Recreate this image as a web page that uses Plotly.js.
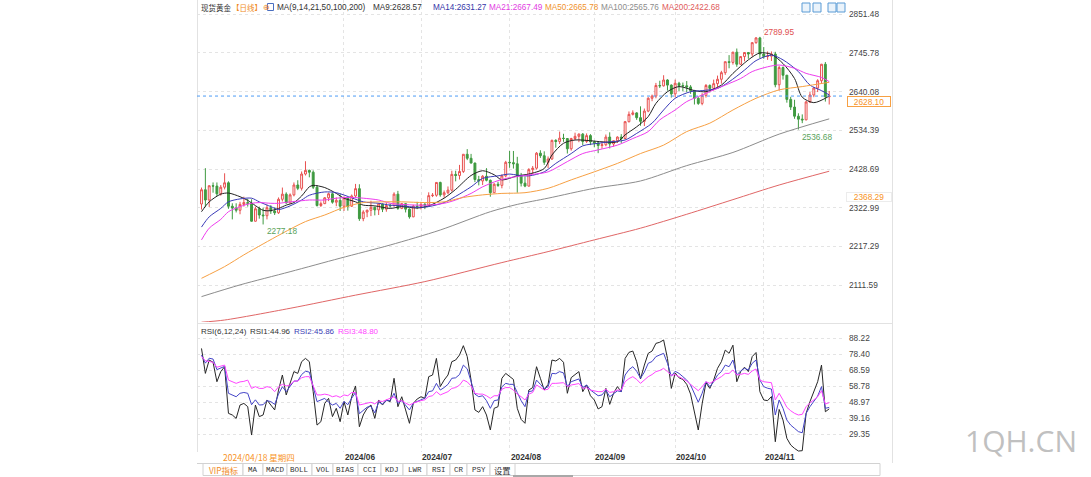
<!DOCTYPE html>
<html><head><meta charset="utf-8">
<script src="https://cdn.plot.ly/plotly-3.0.1.min.js"></script>
<style>html,body{margin:0;padding:0;background:#fff;overflow:hidden}#chart{width:1091px;height:477px}</style>
</head><body><div id="chart"></div>
<script>
// ---------- categories (trading days 2024) ----------
const dates = [
'04/11','04/12','04/15','04/16','04/17','04/18','04/19','04/22','04/23','04/24','04/25','04/26','04/29','04/30',
'05/01','05/02','05/03','05/06','05/07','05/08','05/09','05/10','05/13','05/14','05/15','05/16','05/17','05/20','05/21','05/22','05/23','05/24','05/27','05/28','05/29','05/30','05/31',
'06/03','06/04','06/05','06/06','06/07','06/10','06/11','06/12','06/13','06/14','06/17','06/18','06/19','06/20','06/21','06/24','06/25','06/26','06/27','06/28',
'07/01','07/02','07/03','07/04','07/05','07/08','07/09','07/10','07/11','07/12','07/15','07/16','07/17','07/18','07/19','07/22','07/23','07/24','07/25','07/26','07/29','07/30','07/31',
'08/01','08/02','08/05','08/06','08/07','08/08','08/09','08/12','08/13','08/14','08/15','08/16','08/19','08/20','08/21','08/22','08/23','08/26','08/27','08/28','08/29','08/30',
'09/02','09/03','09/04','09/05','09/06','09/09','09/10','09/11','09/12','09/13','09/16','09/17','09/18','09/19','09/20','09/23','09/24','09/25','09/26','09/27','09/30',
'10/01','10/02','10/03','10/04','10/07','10/08','10/09','10/10','10/11','10/14','10/15','10/16','10/17','10/18','10/21','10/22','10/23','10/24','10/25','10/28','10/29','10/30','10/31',
'11/01','11/04','11/05','11/06','11/07','11/08','11/11','11/12','11/13','11/14','11/15','11/18','11/19','11/20','11/21','11/22','11/25','11/26'];

// ---------- OHLC ----------
const open = [
2333,2372,2344,2383,2382,2361,2379,2391,2327,2322,2316,2332,2337,2335,
2286,2320,2303,2301,2323,2314,2309,2346,2360,2336,2358,2385,2376,2415,2425,2420,2379,2329,2334,2350,2361,2338,2343,
2327,2350,2327,2355,2375,2293,2311,2316,2324,2317,2333,2319,2329,2328,2360,2321,2334,2319,2298,2327,
2326,2332,2330,2356,2357,2392,2358,2364,2371,2414,2411,2422,2469,2458,2445,2400,2396,2409,2398,2364,2387,2384,2410,
2447,2446,2443,2410,2390,2382,2427,2431,2472,2465,2447,2456,2507,2504,2513,2512,2484,2512,2518,2524,2504,2520,
2503,2500,2493,2495,2516,2497,2506,2516,2512,2558,2578,2582,2569,2559,2587,2622,2628,2657,2656,2672,2658,
2634,2663,2657,2656,2653,2643,2622,2608,2630,2657,2649,2662,2674,2692,2722,2720,2748,2715,2736,2747,2743,2774,2787,
2743,2736,2737,2743,2659,2706,2685,2619,2598,2573,2565,2563,2612,2631,2650,2670,2715,2626];
const high = [
2378,2431,2384,2392,2392,2385,2417,2395,2335,2335,2339,2353,2347,2346,
2326,2326,2323,2331,2330,2324,2351,2378,2365,2362,2392,2398,2422,2450,2427,2425,2385,2340,2352,2364,2364,2351,2361,
2354,2351,2359,2388,2387,2316,2318,2342,2326,2335,2334,2336,2334,2365,2369,2336,2335,2321,2331,2339,
2339,2336,2365,2363,2392,2394,2370,2381,2424,2424,2440,2469,2483,2470,2446,2410,2412,2431,2400,2390,2394,2414,2451,
2478,2478,2462,2418,2408,2431,2437,2475,2480,2477,2463,2509,2510,2531,2525,2513,2514,2528,2526,2527,2526,2524,
2506,2503,2504,2523,2529,2507,2518,2524,2560,2586,2589,2584,2600,2594,2625,2632,2664,2670,2685,2674,2660,
2673,2667,2665,2669,2658,2645,2625,2636,2661,2660,2673,2684,2697,2722,2740,2749,2758,2737,2748,2748,2775,2789,2789.95,
2762,2750,2750,2749,2711,2709,2686,2626,2618,2581,2578,2615,2639,2652,2674,2716,2721,2642];
const low = [
2318,2326,2325,2364,2355,2356,2373,2320,2291,2310,2305,2326,2326,2285,
2285,2293,2277.18,2291,2306,2303,2306,2340,2334,2335,2354,2371,2370,2411,2406,2374,2326,2325,2333,2341,2334,2327,2314,
2314,2315,2325,2350,2287,2286,2297,2300,2302,2303,2311,2312,2323,2327,2317,2319,2310,2293,2297,2319,
2318,2319,2326,2352,2353,2353,2350,2360,2367,2395,2400,2418,2453,2444,2393,2384,2385,2395,2353,2364,2380,2376,2406,
2432,2430,2364,2381,2379,2381,2415,2427,2459,2440,2431,2454,2487,2497,2503,2471,2479,2508,2502,2494,2500,2494,
2488,2472,2484,2491,2485,2490,2500,2500,2510,2556,2575,2563,2547,2546,2584,2614,2622,2650,2654,2643,2624,
2625,2642,2641,2639,2634,2605,2604,2603,2624,2638,2643,2653,2662,2686,2704,2714,2708,2713,2723,2730,2736,2771,2731,
2730,2727,2724,2652,2643,2673,2610,2590,2566,2536.68,2554,2562,2609,2625,2639,2664,2613,2605];
const close = [
2372,2344,2383,2382,2361,2379,2391,2327,2322,2316,2332,2337,2335,2286,
2320,2303,2301,2323,2314,2309,2346,2360,2336,2358,2385,2376,2415,2425,2420,2379,2329,2334,2350,2361,2338,2343,2327,
2350,2327,2355,2375,2293,2311,2316,2324,2317,2333,2319,2329,2328,2360,2321,2334,2319,2298,2327,2326,
2332,2330,2356,2357,2392,2358,2364,2371,2414,2411,2422,2469,2458,2445,2400,2396,2409,2398,2364,2387,2384,2410,2447,
2446,2443,2410,2390,2382,2427,2431,2472,2465,2447,2456,2507,2504,2513,2512,2484,2512,2518,2524,2504,2520,2503,
2500,2493,2495,2516,2497,2506,2516,2512,2558,2578,2582,2569,2559,2587,2622,2628,2657,2656,2672,2658,2634,
2663,2657,2656,2653,2643,2622,2608,2630,2657,2649,2662,2674,2692,2722,2720,2748,2715,2736,2747,2743,2774,2787,2743,
2736,2737,2743,2659,2706,2685,2619,2598,2573,2565,2563,2612,2631,2650,2670,2715,2626,2628.10];

// ---------- moving averages: [day index, value] ----------
const ma9 = [[0,2312],[2,2339],[5,2360],[7,2363],[10,2353],[12,2343],[16,2316],[18,2315],[20,2321],[22,2330],[24,2337],[26,2355],[28,2380],[29,2384],[32,2378],[35,2362],[37,2349],[40,2339],[42,2330],[45,2328],[49,2321],[52,2326],[56,2322],[59,2328],[63,2349],[66,2373],[70,2411],[73,2424],[76,2413],[78,2399],[82,2410],[85,2415],[89,2430],[91,2467],[94,2499],[97,2508],[101,2506],[104,2503],[108,2503],[110,2522],[113,2544],[116,2572],[118,2608],[121,2640],[124,2654],[128,2643],[131,2640],[135,2658],[138,2690],[142,2727],[145,2746],[148,2742],[151,2717],[154,2676],[156,2625],[159,2610],[162,2622],[163,2628.57]];
const ma14 = [[0,2270],[2,2298],[5,2321],[7,2339],[10,2347],[13,2349],[15,2339],[18,2326],[20,2318],[23,2328],[26,2344],[28,2357],[32,2366],[35,2364],[39,2350],[42,2339],[46,2335],[49,2330],[52,2328],[56,2324],[59,2326],[63,2337],[66,2354],[70,2380],[73,2403],[77,2410],[80,2415],[82,2412],[85,2410],[89,2421],[92,2444],[96,2471],[99,2492],[103,2499],[106,2503],[110,2508],[113,2526],[117,2554],[120,2590],[123,2622],[127,2640],[130,2643],[134,2649],[137,2667],[141,2699],[144,2725],[148,2740],[151,2727],[155,2695],[158,2658],[161,2643],[163,2631.27]];
const ma21 = [[0,2235],[2,2267],[5,2291],[7,2312],[10,2326],[13,2335],[15,2337],[18,2335],[20,2335],[23,2339],[26,2342],[28,2344],[32,2344],[35,2349],[39,2351],[42,2349],[46,2344],[49,2335],[52,2332],[56,2330],[59,2330],[63,2335],[66,2344],[70,2362],[73,2380],[77,2397],[80,2405],[82,2408],[86,2414],[90,2421],[95,2449],[99,2471],[103,2481],[108,2494],[112,2512],[116,2531],[119,2563],[123,2590],[126,2613],[130,2631],[133,2645],[136,2658],[140,2676],[143,2695],[147,2708],[150,2713],[154,2704],[157,2690],[161,2679],[163,2667.49]];
const ma50 = [[0,2130],[6,2162],[11,2194],[16,2224],[21,2253],[27,2285],[32,2303],[37,2324],[42,2337],[47,2339],[52,2339],[58,2337],[63,2339],[68,2351],[73,2358],[78,2362],[84,2364],[90,2376],[96,2399],[102,2421],[108,2444],[114,2471],[120,2494],[126,2531],[132,2554],[138,2590],[144,2622],[150,2645],[156,2654],[163,2665.78]];
const ma100 = [[0,2080],[10,2112],[23,2148],[36,2185],[49,2221],[62,2262],[75,2312],[82,2332],[90,2349],[102,2376],[114,2396],[126,2438],[138,2474],[150,2524],[163,2565.76]];
const ma200 = [[0,2010],[6,2016],[23,2048],[40,2084],[58,2121],[78,2173],[90,2203],[102,2235],[114,2267],[126,2305],[138,2345],[150,2385],[163,2422.68]];

// ---------- RSI(6,12,24) ----------
const rsi1 = [
82,66.7,74.9,73.5,61.6,67.8,70.8,42.2,41.2,39.1,47.3,48.3,46.3,28.9,
47.3,40.2,41.2,50.4,47.3,44.3,56.5,65.7,53.5,60.6,67.8,66.7,73.9,75.9,73.9,55.5,35,37.1,48.3,51.4,40.2,45.3,37.1,
49.4,41.2,52.4,59,34,41.2,45.3,47.3,39.1,50.4,47.3,50.4,49.4,63.7,46.3,52.4,44.3,36.1,48.3,51,
52.4,51.4,64.7,65.7,75.9,58.6,62.6,65.7,73.9,74.9,78,83.7,77,62.6,44.3,42.8,46.3,41.2,32,45.3,46.3,63.7,66.7,
65,63,45.3,38.5,36.1,56.5,58,70.8,63.7,56.5,60,74.9,74.3,75.9,73.5,54.5,64.1,66.1,67.8,55.5,59.6,53,
50.4,44.9,46.3,57.5,47.7,54.5,58.6,55.5,75.9,79.6,80.4,73.9,63.3,71.8,79,80.4,85.1,85.8,87.2,75.9,57.5,
67,64,63,60,54,43,32,48,61,57.5,62.6,69.8,73.9,81,79,84,61.6,67.8,70.5,67.8,77,79.5,55.5,
50.4,50,52.5,24.8,44.6,38.1,26.9,22.8,20.7,19.1,19.3,42.2,49.4,55.5,61.6,71.8,43.2,44.96];
const rsi2 = [
78,73,76,75.5,69,70,71,54.5,53.5,52.4,54.5,55,54.5,47.5,
50.5,47.3,47.5,50,49.4,47.7,54,58.5,55.5,58.5,62,62,66,68,67.5,58.6,49.4,50.4,51.4,49,47.3,48.3,45.3,
49.5,47.5,51.5,55,42,44,46,46.5,42.5,49,48,50,50,54.5,48.3,50,47.3,44.3,48.5,49.5,
50.4,51.5,55.5,56,60.6,56.5,58,60,63.7,64,66,71.8,69.5,62,54,52.4,53,50,45.3,50,50.4,58.5,60.6,
60,60,55,50,46.3,55.5,56,62.6,60,57.5,58.5,66.7,66.5,67.8,67,58.6,61.6,62.6,63.3,58,59.6,56.5,
55,53,53.5,56.5,52.4,54.5,56,55.5,65.7,69,70.8,68,63.7,67.5,72.9,74,77,78,79,72.9,65,
68,66.7,64.7,62.6,59.6,54.5,49,54.5,61.6,58.6,61.6,65.7,67.8,71.8,70.8,74.9,65.7,68.2,69.8,68.8,72.9,74.9,62.6,
58.6,57.6,57.1,41.2,50.4,45.3,38.1,35,33,31,30.3,42.2,46.3,49.4,52.8,58.6,45.3,45.86];
const rsi3 = [
77,74.5,74,73.5,70.5,71,71.8,62.6,61.5,60.6,61.5,61.8,62.6,57.5,
58.6,57.5,57.5,58.6,58,55.5,58.5,60,59,59.6,62,62,64,64.7,64.7,59.6,53.5,53.5,54,53.5,52.4,53,52,
53.5,53,55,55,47.3,48,48.5,49,48,49.8,49.5,50.5,51,52.4,49.5,50,48.5,47.3,48.5,49.5,
50,50.5,52.5,53,55.5,53.5,54.5,55.5,57.5,58,59.5,62.6,61.5,59,54.5,54,54,53,51.4,53,53,57,58,
58,56.5,54,52.4,50.4,54,55,59.6,58,56.5,57,60.6,60.6,61,61,58.6,59.6,60,60.5,57.5,58,56.5,
56,55.5,55.5,57,55,55.5,56.5,56.5,61.6,63.5,64.7,63,60.6,62.5,64.7,66,67.8,68.5,69.8,67.8,65.5,
66,64.7,63.7,62,60,58,56.1,58.6,61.6,60.6,62,63.7,64.7,66.7,66.7,68.8,65.7,66.1,66.7,66.1,68.2,69.4,62.6,
61.6,61.2,61,50.4,54.5,50.4,45.9,43.8,42.2,41.2,41.6,46.3,48.7,50.4,52.4,56.1,47.9,48.8];

// ---------- axis ticks ----------
const priceTicks = [2111.59,2217.29,2322.99,2428.69,2534.39,2640.08,2745.78,2851.48];
const rsiTicks = [29.35,39.16,48.97,58.78,68.59,78.40,88.22];
const monthStarts = ['06/03','07/01','08/01','09/02','10/01','11/01'];
const monthLabels = ['2024/06','2024/07','2024/08','2024/09','2024/10','2024/11'];
const extremes = [
  {d:'10/31', v:2789.95, c:'#e0504f', pos:'top'},
  {d:'05/03', v:2277.18, c:'#5aa35a', pos:'bottom'},
  {d:'11/14', v:2536.68, c:'#5aa35a', pos:'bottom'}];
const lastPrice = close[close.length-1];
const cursorPrice = 2368.29;

// ---------- geometry helpers (pixels -> paper) ----------
const W = 1091, H = 477, L = 197, R = 845;
const PX = p => (p - L) / (R - L);
const PY = p => 1 - p / H;
const LAT = 'Liberation Sans, Arial, sans-serif';
const CJK = 'Noto Sans CJK SC, sans-serif';

const maStyles = [
  {d:ma9, c:'#222222'}, {d:ma14, c:'#3a3ab8'}, {d:ma21, c:'#ee3cee'},
  {d:ma50, c:'#f7a043'}, {d:ma100, c:'#8c8c8c'}, {d:ma200, c:'#e06666'}];

const traces = [{
  type:'candlestick', x:dates, open:open, high:high, low:low, close:close,
  xaxis:'x', yaxis:'y', whiskerwidth:0, hoverinfo:'skip', showlegend:false,
  increasing:{line:{color:'#e8504f', width:1}, fillcolor:'#ffffff'},
  decreasing:{line:{color:'#3f9a40', width:1}, fillcolor:'#3f9a40'}
}];
maStyles.forEach(m => traces.push({
  type:'scatter', mode:'lines', x:m.d.map(p => dates[p[0]]), y:m.d.map(p => p[1]),
  xaxis:'x', yaxis:'y', line:{color:m.c, width:1, shape:'spline', smoothing:0.8},
  hoverinfo:'skip', showlegend:false}));
[[rsi1,'#262626'],[rsi2,'#4545c8'],[rsi3,'#ff45ff']].forEach(r => traces.push({
  type:'scatter', mode:'lines', x:dates, y:r[0], xaxis:'x2', yaxis:'y2',
  line:{color:r[1], width:1}, hoverinfo:'skip', showlegend:false}));

function txt(text, px, py, color, size, fam, extra) {
  return Object.assign({text:text, xref:'paper', yref:'paper', x:PX(px), y:PY(py),
    xanchor:'left', yanchor:'middle', showarrow:false,
    font:{family:fam||LAT, size:size||8.2, color:color||'#333'}}, extra||{});
}
const ann = [];
// header
ann.push(txt('现货黄金', 199, 7, '#333', 7.5, CJK));
ann.push(txt('【日线】', 230, 7, '#f08a24', 7.5, CJK));
ann.push(txt('⊕', 260.5, 7.5, '#f08a24', 7.5, LAT));
const header = [['MA(9,14,21,50,100,200)',275,'#333'],['MA9:2628.57',371,'#333'],['MA14:2631.27',431,'#3535a8'],
  ['MA21:2667.49',487,'#e23be2'],['MA50:2665.78',543,'#f0922c'],['MA100:2565.76',599,'#8c8c8c'],['MA200:2422.68',660,'#e05a5a']];
header.forEach(h => ann.push(txt(h[0], h[1], 7, h[2], 8.2)));
// RSI header
[['RSI(6,12,24)',199,'#333'],['RSI1:44.96',248,'#333'],['RSI2:45.86',292,'#3d3db5'],['RSI3:48.80',336,'#ff44ff']]
  .forEach(h => ann.push(txt(h[0], h[1], 331, h[2], 8)));
// extremes
extremes.forEach(e => ann.push({text:e.v.toFixed(2), xref:'x', yref:'y', x:e.d, y:e.v, xanchor:'left',
  yanchor: e.pos==='top' ? 'bottom' : 'top', xshift:2, yshift: e.pos==='top' ? -2 : 0, showarrow:false,
  font:{family:LAT, size:8.3, color:e.c}}));
// month labels
monthStarts.forEach((d,i) => ann.push({text:'<b>'+monthLabels[i]+'</b>', xref:'x2', yref:'paper', x:d, y:PY(457),
  xanchor:'left', yanchor:'middle', xshift:-1, showarrow:false, font:{family:LAT, size:8.3, color:'#333'}}));
ann.push({text:'2024/04/18 星期四', xref:'x2', yref:'paper', x:'04/18', y:PY(457), xanchor:'left', yanchor:'middle',
  showarrow:false, font:{family:CJK, size:8.5, color:'#f7931e'}});
// price labels on axis
ann.push({text:lastPrice.toFixed(2), xref:'paper', yref:'y', x:PX(869), y:lastPrice, xanchor:'center', yanchor:'middle',
  yshift:-5, showarrow:false, bgcolor:'#ffffff', bordercolor:'#f7a043', borderwidth:1, borderpad:0, width:42, height:9,
  font:{family:LAT, size:8.3, color:'#f7931e'}});
ann.push({text:cursorPrice.toFixed(2), xref:'paper', yref:'paper', x:PX(869), y:PY(197), xanchor:'center', yanchor:'middle',
  showarrow:false, bgcolor:'#ffffff', bordercolor:'#ececec', borderwidth:1, borderpad:0, width:44, height:8,
  font:{family:LAT, size:8.3, color:'#f7931e'}});
// bottom tabs
const tabs = [['VIP指标',203,243,'#f08a24'],['MA',243,263],['MACD',263,287],['BOLL',287,312],['VOL',312,333],['BIAS',333,358],
  ['CCI',358,381],['KDJ',381,403],['LWR',403,427],['RSI',427,450],['CR',450,467],['PSY',467,490],['设置',490,515]];
const shapes = [];
tabs.forEach(t => {
  shapes.push({type:'rect', xref:'paper', yref:'paper', x0:PX(t[1]), x1:PX(t[2]), y0:PY(463.5), y1:PY(475.5),
    line:{color:'#d2d2d2', width:1}, fillcolor:'#ffffff', layer:'below'});
  const cjk = /[\u4e00-\u9fff]/.test(t[0]);
  ann.push(txt(t[0], (t[1]+t[2])/2, 469.5, t[3]||'#333', cjk ? 8.3 : 7.5, cjk ? CJK : 'Liberation Mono, monospace',
    {xanchor:'center'}));
});
// watermark
ann.push({text:'1QH.CN', xref:'paper', yref:'paper', x:PX(1021), y:PY(440), xanchor:'center', yanchor:'middle',
  showarrow:false, font:{family:'Open Sans, Noto Sans, sans-serif', size:30, color:'#c0c0c0'}});

// frame / separators
const ln = (x0,y0,x1,y1,c) => ({type:'line', xref:'paper', yref:'paper', x0:PX(x0), y0:PY(y0), x1:PX(x1), y1:PY(y1),
  line:{color:c||'#e2e2e2', width:1}});
shapes.push(ln(197.5,0,197.5,452));
shapes.push(ln(892.5,0,892.5,463));
shapes.push(ln(197,323.5,892.5,323.5));
shapes.push(ln(197,463.5,880,463.5,'#d2d2d2'));
shapes.push(ln(515,475.5,880,475.5,'#d2d2d2'));
shapes.push(ln(880,463.5,880,475.5,'#d2d2d2'));
shapes.push({type:'rect', xref:'paper', yref:'paper', x0:PX(513), x1:PX(573), y0:PY(477), y1:PY(475), line:{width:0}, fillcolor:'#a8a8a8'});
shapes.push({type:'line', xref:'paper', yref:'y', x0:0, x1:1, y0:lastPrice, y1:lastPrice,
  line:{color:'#4d9cf5', width:1, dash:'dot'}});
// toolbar icons (top right)
[802,813,828,837].forEach(x => shapes.push({type:'rect', xref:'paper', yref:'paper', x0:PX(x), x1:PX(x+8),
  y0:PY(12), y1:PY(3), line:{color:'#5b9bd5', width:1}, fillcolor:'#eaf3fb'}));
shapes.push({type:'rect', xref:'paper', yref:'paper', x0:PX(267.5), x1:PX(273.5), y0:PY(10.5), y1:PY(3.5),
  line:{color:'#4a6fc0', width:1}, fillcolor:'#ffffff'});

const gridY = {showgrid:true, gridcolor:'#e4e4e4', griddash:'dot', gridwidth:1, zeroline:false, showline:false,
  side:'right', ticks:'', ticklabelstandoff:3, automargin:false, tickfont:{family:LAT, size:8.3, color:'#444'}, fixedrange:true};
const gridX = {type:'category', range:[-1.17, 167.1], tickvals:monthStarts, showticklabels:false, showgrid:true,
  gridcolor:'#e4e4e4', griddash:'dot', zeroline:false, showline:false, ticks:'', automargin:false,
  rangeslider:{visible:false}, fixedrange:true};

const layout = {
  width:W, height:H, margin:{l:L, r:W-R, t:0, b:0}, paper_bgcolor:'#ffffff', plot_bgcolor:'#ffffff',
  showlegend:false, dragmode:false, font:{family:LAT},
  xaxis:Object.assign({}, gridX, {anchor:'y', domain:[0,1]}),
  xaxis2:Object.assign({}, gridX, {anchor:'y2', domain:[0,1], matches:'x'}),
  yaxis:Object.assign({}, gridY, {domain:[1-322/H, 1], range:[2010.6, 2890.6], tickvals:priceTicks,
    ticktext:priceTicks.map(v => v.toFixed(2)), anchor:'x'}),
  yaxis2:Object.assign({}, gridY, {domain:[1-452/H, 1-325/H], range:[18.5, 96.38], tickvals:rsiTicks,
    ticktext:rsiTicks.map(v => v.toFixed(2)), anchor:'x2'}),
  annotations:ann, shapes:shapes
};
Plotly.newPlot('chart', traces, layout, {staticPlot:true, displayModeBar:false});
</script></body></html>
